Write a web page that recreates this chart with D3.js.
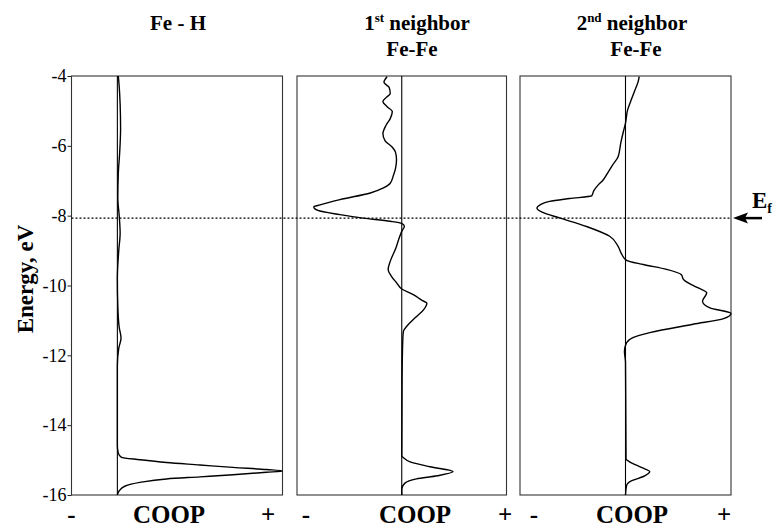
<!DOCTYPE html>
<html>
<head>
<meta charset="utf-8">
<script src="https://cdn.jsdelivr.net/npm/d3@7"></script>
<style>
  body { margin: 0; background: #fff; }
  svg { display: block; }
  svg text { font-family: "Liberation Serif", Tinos, "Times New Roman", "DejaVu Serif", serif; fill: #000; }
</style>
</head>
<body>
<svg id="chart" width="774" height="528"></svg>
<script>
// energy ticks on the left axis (eV)
const energyTicks = [-4, -6, -8, -10, -12, -14, -16];
const fermiLevel = -8.07;

// COOP curves, [energy (eV), COOP (arb. units)]
const feH = [
  [-4.0, 0.02], [-4.3, 0.04], [-4.8, 0.06], [-5.5, 0.07], [-6.2, 0.05], [-6.8, 0.02],
  [-7.5, 0.01], [-8.0, 0.04], [-8.5, 0.06], [-9.0, 0.03], [-9.8, 0.0], [-10.6, 0.01],
  [-11.2, 0.04], [-11.5, 0.08], [-11.8, 0.03], [-12.3, 0.0], [-14.6, 0.0], [-14.8, 0.02],
  [-14.92, 0.09], [-14.99, 0.49], [-15.07, 1.07], [-15.14, 1.80], [-15.21, 2.52],
  [-15.27, 3.25], [-15.31, 3.6], [-15.35, 3.25], [-15.42, 2.52], [-15.48, 1.80],
  [-15.54, 1.07], [-15.64, 0.49], [-15.75, 0.16], [-15.88, 0.04], [-16.0, 0.0]
];
const feFe1 = [
  [-4.02, -0.14], [-4.18, -0.17], [-4.33, -0.12], [-4.50, -0.11], [-4.62, -0.15],
  [-4.73, -0.18], [-4.88, -0.14], [-5.02, -0.09], [-5.22, -0.11], [-5.41, -0.15],
  [-5.65, -0.18], [-5.85, -0.16], [-6.04, -0.09], [-6.18, -0.06], [-6.40, -0.05],
  [-6.65, -0.06], [-6.85, -0.08], [-7.07, -0.11], [-7.21, -0.18], [-7.35, -0.30],
  [-7.54, -0.59], [-7.69, -0.78], [-7.75, -0.84], [-7.85, -0.80], [-7.97, -0.59],
  [-8.07, -0.37], [-8.16, -0.11], [-8.22, 0.0], [-8.30, 0.025], [-8.45, 0.0],
  [-8.69, -0.03], [-8.92, -0.055], [-9.31, -0.11], [-9.54, -0.13], [-9.73, -0.10],
  [-9.92, -0.05], [-10.10, 0.0], [-10.26, 0.11], [-10.42, 0.19], [-10.51, 0.24],
  [-10.69, 0.21], [-10.92, 0.13], [-11.16, 0.05], [-11.31, 0.016], [-11.54, 0.01],
  [-12.7, 0.003], [-14.88, 0.0], [-14.94, 0.02], [-15.05, 0.08], [-15.19, 0.27],
  [-15.33, 0.49], [-15.45, 0.34], [-15.54, 0.14], [-15.66, 0.03], [-15.83, 0.0], [-16.0, 0.0]
];
const feFe2 = [
  [-4.02, 0.13], [-4.16, 0.12], [-4.40, 0.09], [-4.64, 0.06], [-4.97, 0.02], [-5.35, 0.0],
  [-5.59, -0.02], [-5.92, -0.045], [-6.31, -0.07], [-6.54, -0.12], [-6.73, -0.16],
  [-6.97, -0.21], [-7.16, -0.27], [-7.28, -0.30], [-7.43, -0.32], [-7.51, -0.53],
  [-7.59, -0.72], [-7.69, -0.81], [-7.78, -0.84], [-7.90, -0.79], [-8.07, -0.62],
  [-8.31, -0.37], [-8.59, -0.15], [-8.88, -0.07], [-9.11, -0.035], [-9.28, 0.01],
  [-9.40, 0.17], [-9.54, 0.39], [-9.69, 0.53], [-9.83, 0.55], [-9.97, 0.62],
  [-10.07, 0.69], [-10.21, 0.77], [-10.45, 0.73], [-10.64, 0.80], [-10.80, 1.0],
  [-10.95, 0.93], [-11.11, 0.64], [-11.35, 0.23], [-11.49, 0.07], [-11.64, 0.01],
  [-11.88, -0.01], [-12.2, 0.0], [-14.97, 0.005], [-15.05, 0.04], [-15.21, 0.15],
  [-15.33, 0.23], [-15.47, 0.17], [-15.59, 0.06], [-15.73, 0.01], [-16.0, 0.0]
];

// panel layout: x range in px, COOP domain, title lines and bottom label positions
const panels = [
  {data: feH, x0: 71.5, x1: 282.5, domain: [-1, 3.6],
   title: [{x: 178, parts: [["Fe - H"]]}],
   minusX: 71.5, coopX: 169, plusX: 268},
  {data: feFe1, x0: 297, x1: 506.5, domain: [-1, 1],
   title: [{x: 417, parts: [["1"], ["st", "sup"], [" neighbor"]]}, {x: 412, parts: [["Fe-Fe"]]}],
   minusX: 306, coopX: 415, plusX: 505},
  {data: feFe2, x0: 520, x1: 731, domain: [-1, 1],
   title: [{x: 632, parts: [["2"], ["nd", "sup"], [" neighbor"]]}, {x: 636, parts: [["Fe-Fe"]]}],
   minusX: 534, coopX: 632, plusX: 724}
];

const serif = '"Liberation Serif", Tinos, "Times New Roman", "DejaVu Serif", serif';
const svg = d3.select("#chart");
const plotTop = 76, plotBottom = 495;

let y = d3.scaleLinear().domain([-4, -16]).range([plotTop, plotBottom]);

// left energy axis
svg.append("g")
  .attr("transform", "translate(" + panels[0].x0 + ",0)")
  .call(d3.axisLeft(y).tickValues(energyTicks).tickSize(4).tickPadding(1).tickFormat(d => String(d)))
  .call(g => g.select(".domain").remove())
  .call(g => g.selectAll("line").attr("stroke", "#222"))
  .call(g => g.selectAll("text")
    .style("font-family", serif)
    .style("font-size", "18px")
    .attr("fill", "#000"));

svg.append("text")
  .attr("transform", "translate(33,279) rotate(-90)")
  .attr("text-anchor", "middle")
  .style("font-family", serif)
  .style("font-size", "23px")
  .style("font-weight", "bold")
  .text("Energy, eV");

panels.forEach(function(p, i) {
  let x = d3.scaleLinear().domain(p.domain).range([p.x0, p.x1]);

  svg.append("clipPath").attr("id", "clip" + i)
    .append("rect").attr("x", p.x0).attr("y", plotTop).attr("width", p.x1 - p.x0 + 1).attr("height", plotBottom - plotTop);

  // frame
  svg.append("rect")
    .attr("x", p.x0).attr("y", plotTop)
    .attr("width", p.x1 - p.x0).attr("height", plotBottom - plotTop)
    .attr("fill", "none").attr("stroke", "#333").attr("stroke-width", 1.1);

  // zero line
  svg.append("line")
    .attr("x1", x(0)).attr("x2", x(0)).attr("y1", plotTop).attr("y2", plotBottom)
    .attr("stroke", "#000").attr("stroke-width", 1.1);

  let line = d3.line()
    .x(d => x(d[1]))
    .y(d => y(d[0]))
    .curve(d3.curveMonotoneY);

  svg.append("path")
    .datum(p.data)
    .attr("clip-path", "url(#clip" + i + ")")
    .attr("fill", "none")
    .attr("stroke", "#000")
    .attr("stroke-width", 1.4)
    .attr("d", line);

  // titles
  p.title.forEach(function(t, k) {
    let tx = svg.append("text")
      .attr("x", t.x).attr("y", k === 0 ? 30 : 56)
      .attr("text-anchor", "middle")
      .style("font-family", serif)
      .style("font-size", "21px")
      .style("font-weight", "bold");
    t.parts.forEach(function(part, j) {
      let s = tx.append("tspan").text(part[0]);
      if (part[1] === "sup") s.style("font-size", "13px").attr("dy", -8);
      else if (j > 0) s.attr("dy", 8);
    });
  });

  // bottom labels
  [[p.minusX, "-"], [p.coopX, "COOP"], [p.plusX, "+"]].forEach(function(l) {
    svg.append("text")
      .attr("x", l[0]).attr("y", 523)
      .attr("text-anchor", "middle")
      .style("font-family", serif)
      .style("font-size", "25px")
      .style("font-weight", "bold")
      .text(l[1]);
  });
});

// Fermi level
let ey = y(fermiLevel);
svg.append("line")
  .attr("x1", panels[0].x0).attr("x2", panels[2].x1)
  .attr("y1", ey).attr("y2", ey)
  .attr("stroke", "#000").attr("stroke-width", 1.2)
  .attr("stroke-dasharray", "2,2");

svg.append("line")
  .attr("x1", 744).attr("x2", 762).attr("y1", ey).attr("y2", ey)
  .attr("stroke", "#000").attr("stroke-width", 2.5);
svg.append("path")
  .attr("d", "M733," + ey + " L748," + (ey - 5.5) + " L745," + ey + " L748," + (ey + 5.5) + " Z")
  .attr("fill", "#000");

let ef = svg.append("text")
  .attr("x", 752).attr("y", 208)
  .style("font-family", serif)
  .style("font-size", "23px")
  .style("font-weight", "bold");
ef.append("tspan").text("E");
ef.append("tspan").text("f").style("font-size", "14px").attr("dy", 5);
</script>
</body>
</html>
